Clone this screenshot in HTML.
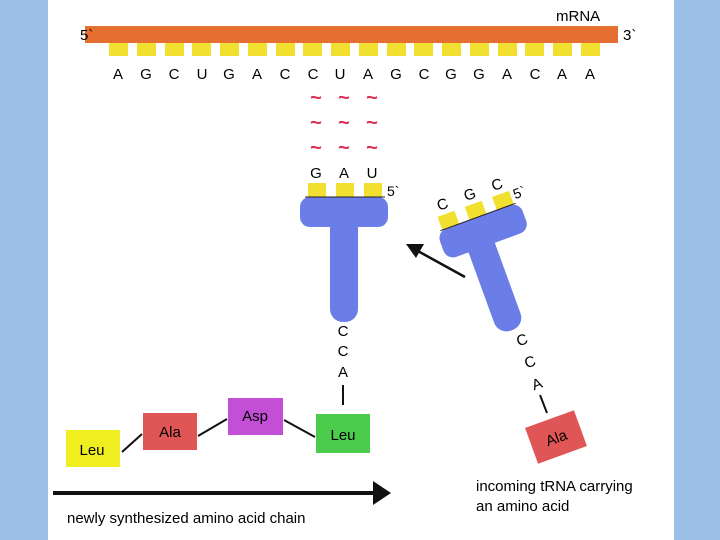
<!DOCTYPE html>
<html><head><meta charset="utf-8"><style>
html,body{margin:0;padding:0;width:720px;height:540px;overflow:hidden;background:#9bbfe6}
svg{display:block}
text{font-family:"Liberation Sans",Arial,sans-serif}
</style></head><body>
<svg width="720" height="540" viewBox="0 0 720 540">
<rect x="0" y="0" width="720" height="540" fill="#9bbfe6"/>
<rect x="48" y="0" width="626" height="540" fill="#fff"/>
<!-- mRNA -->
<rect x="85" y="26" width="533" height="17" fill="#e46f30"/>
<text x="556" y="21" font-size="15">mRNA</text>
<text x="80" y="40" font-size="15">5`</text>
<text x="623" y="40" font-size="15">3`</text>
<g fill="#f2e030">
<rect x="109" y="43" width="19" height="13"/><rect x="137" y="43" width="19" height="13"/><rect x="165" y="43" width="19" height="13"/><rect x="192" y="43" width="19" height="13"/><rect x="220" y="43" width="19" height="13"/><rect x="248" y="43" width="19" height="13"/><rect x="276" y="43" width="19" height="13"/><rect x="303" y="43" width="19" height="13"/><rect x="331" y="43" width="19" height="13"/><rect x="359" y="43" width="19" height="13"/><rect x="387" y="43" width="19" height="13"/><rect x="414" y="43" width="19" height="13"/><rect x="442" y="43" width="19" height="13"/><rect x="470" y="43" width="19" height="13"/><rect x="498" y="43" width="19" height="13"/><rect x="525" y="43" width="19" height="13"/><rect x="553" y="43" width="19" height="13"/><rect x="581" y="43" width="19" height="13"/>
</g>
<g font-size="15" text-anchor="middle">
<text x="118" y="79">A</text><text x="146" y="79">G</text><text x="174" y="79">C</text><text x="202" y="79">U</text><text x="229" y="79">G</text><text x="257" y="79">A</text><text x="285" y="79">C</text><text x="313" y="79">C</text><text x="340" y="79">U</text><text x="368" y="79">A</text><text x="396" y="79">G</text><text x="424" y="79">C</text><text x="451" y="79">G</text><text x="479" y="79">G</text><text x="507" y="79">A</text><text x="535" y="79">C</text><text x="562" y="79">A</text><text x="590" y="79">A</text>
</g>
<g font-size="20" font-weight="bold" fill="#e0305a" text-anchor="middle">
<text x="316" y="104">~</text><text x="344" y="104">~</text><text x="372" y="104">~</text>
<text x="316" y="129">~</text><text x="344" y="129">~</text><text x="372" y="129">~</text>
<text x="316" y="154">~</text><text x="344" y="154">~</text><text x="372" y="154">~</text>
</g>
<!-- left tRNA -->
<g font-size="15" text-anchor="middle"><text x="316" y="178">G</text><text x="344" y="178">A</text><text x="372" y="178">U</text></g>
<text x="387" y="196" font-size="14">5`</text>
<g fill="#f2e030"><rect x="308" y="183" width="18" height="14"/><rect x="336" y="183" width="18" height="14"/><rect x="364" y="183" width="18" height="14"/></g>
<g fill="#6b7de6">
<rect x="300" y="197" width="88" height="30" rx="10"/>
<rect x="330" y="205" width="28" height="117" rx="13"/>
</g>
<line x1="305" y1="197" x2="385" y2="197" stroke="#222" stroke-width="1"/>
<g font-size="15" text-anchor="middle"><text x="343" y="336">C</text><text x="343" y="356">C</text><text x="343" y="377">A</text></g>
<line x1="343" y1="385" x2="343" y2="405" stroke="#111" stroke-width="2"/>
<rect x="316" y="414" width="54" height="39" fill="#4ccc4c"/>
<text x="343" y="440" font-size="15" text-anchor="middle">Leu</text>
<!-- chain -->
<rect x="66" y="430" width="54" height="37" fill="#eeee20"/>
<text x="92" y="455" font-size="15" text-anchor="middle">Leu</text>
<rect x="143" y="413" width="54" height="37" fill="#e05555"/>
<text x="170" y="437" font-size="15" text-anchor="middle">Ala</text>
<rect x="228" y="398" width="55" height="37" fill="#c24fd6"/>
<text x="255" y="421" font-size="15" text-anchor="middle">Asp</text>
<g stroke="#111" stroke-width="2">
<line x1="122" y1="452" x2="142" y2="434"/>
<line x1="198" y1="436" x2="227" y2="419"/>
<line x1="284" y1="420" x2="315" y2="437"/>
</g>
<line x1="53" y1="493" x2="375" y2="493" stroke="#111" stroke-width="4"/>
<polygon points="373,481 391,493 373,505" fill="#111"/>
<text x="67" y="523" font-size="15">newly synthesized amino acid chain</text>
<!-- arrow -->
<line x1="465" y1="277" x2="416" y2="250" stroke="#111" stroke-width="2.5"/>
<polygon points="406,244 424,244 416,258" fill="#111"/>
<!-- right tRNA -->
<g transform="rotate(-20 478 217)">
<g fill="#f2e030"><rect x="440" y="203" width="18" height="14"/><rect x="469" y="203" width="18" height="14"/><rect x="498" y="203" width="18" height="14"/></g>
<rect x="434" y="217" width="88" height="30" rx="10" fill="#6b7de6"/>
<rect x="457" y="225" width="28" height="110" rx="13" fill="#6b7de6"/>
<line x1="438" y1="217" x2="518" y2="217" stroke="#222" stroke-width="1"/>
<g font-size="15" text-anchor="middle"><text x="449" y="198">C</text><text x="478" y="198">G</text><text x="507" y="198">C</text></g>
<text x="519" y="213" font-size="14">5`</text>
</g>
<g font-size="15" text-anchor="middle">
<text x="522" y="345" transform="rotate(-20 522 340)">C</text>
<text x="530" y="367" transform="rotate(-20 530 362)">C</text>
<text x="537" y="389" transform="rotate(-20 537 384)">A</text>
</g>
<line x1="540" y1="395" x2="547" y2="413" stroke="#111" stroke-width="2"/>
<g transform="rotate(-20 556 437)">
<rect x="530" y="418" width="52" height="38" fill="#e05555"/>
<text x="556" y="443" font-size="15" text-anchor="middle">Ala</text>
</g>
<text x="476" y="491" font-size="15">incoming tRNA carrying</text>
<text x="476" y="511" font-size="15">an amino acid</text>
</svg>
</body></html>
